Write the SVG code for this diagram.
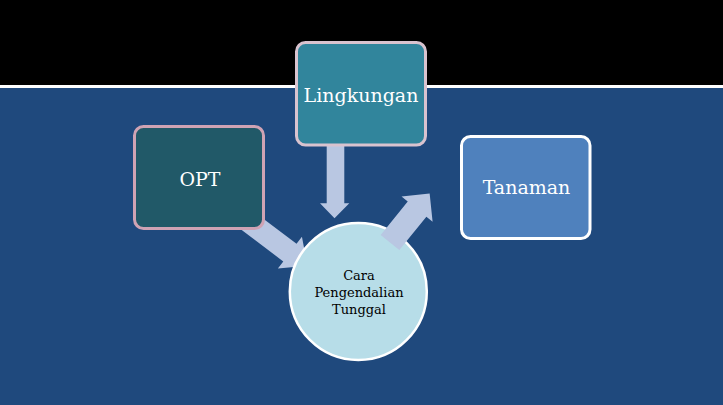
<svg xmlns="http://www.w3.org/2000/svg" width="723" height="405" viewBox="0 0 723 405">
  <style>
    .lbl { font-family: "DejaVu Serif", "Liberation Serif", serif; font-size: 19px; fill: #FFFFFF; text-anchor: middle; }
    .ctr { font-family: "DejaVu Serif", "Liberation Serif", serif; font-size: 13px; fill: #000000; text-anchor: middle; }
    .arrow { fill: #B9C7E2; stroke: none; }
    .box { stroke-width: 3; }
  </style>
  <rect x="0" y="0" width="723" height="405" fill="#1F497D"/>
  <rect x="0" y="0" width="723" height="85" fill="#000000"/>
  <rect x="0" y="85" width="723" height="3" fill="#FFFFFF"/>

  <g id="connectors">
    <polygon id="arrow-lingkungan" class="arrow" points="326.7,140 344.3,140 344.3,203.3 349.3,203.3 334.5,218.3 320,203.3 326.7,203.3"/>
    <polygon id="arrow-opt" class="arrow" transform="translate(234,210.5) rotate(37)" points="0,-11 70,-11 70,-20 92,0 70,20 70,11 0,11"/>
  </g>

  <g id="node-opt">
    <rect class="box" x="134.5" y="126.5" width="129" height="102" rx="9" fill="#215968" stroke="#CFA3B4"/>
    <text class="lbl" x="200" y="185.5">OPT</text>
  </g>

  <g id="node-lingkungan">
    <rect class="box" x="296.5" y="42.5" width="129" height="102.5" rx="9" fill="#31859C" stroke="#D9C3CF"/>
    <text class="lbl" x="361" y="101.5">Lingkungan</text>
  </g>

  <g id="node-tanaman">
    <rect class="box" x="461.5" y="136.5" width="128.5" height="102" rx="9" fill="#4F81BD" stroke="#FFFFFF"/>
    <text class="lbl" x="526.5" y="194">Tanaman</text>
  </g>

  <g id="node-cara">
    <circle cx="358.3" cy="291.5" r="68.5" fill="#B7DDE8" stroke="#FFFFFF" stroke-width="2.5"/>
    <text class="ctr" x="359" y="280">Cara</text>
    <text class="ctr" x="359" y="297">Pengendalian</text>
    <text class="ctr" x="359" y="314">Tunggal</text>
  </g>

  <g id="connectors-top">
    <polygon id="arrow-tanaman" class="arrow" transform="translate(390,242.5) rotate(-51)" points="0,-12 43,-12 43,-20 63,0 43,20 43,12 0,12"/>
  </g>
</svg>
